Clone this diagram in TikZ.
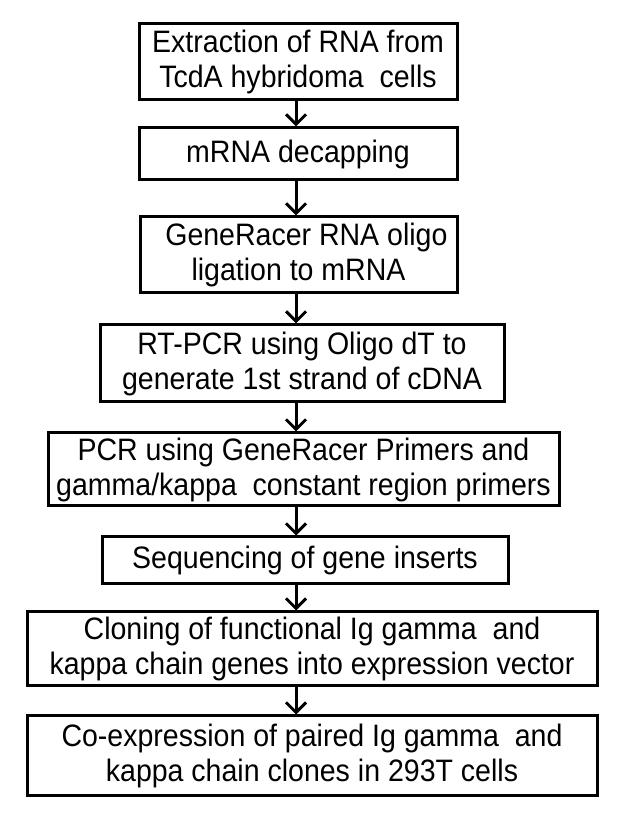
\documentclass[tikz,border=0pt]{standalone}
\usepackage{fontspec}
\setmainfont{Liberation Sans}
\newfontfamily\stepfont[FakeStretch=0.92]{Liberation Sans}
\usetikzlibrary{arrows.meta,shadows}
\begin{document}
\begin{tikzpicture}[x=1pt,y=1pt,
  stepbox/.style={draw=black, line width=3pt, fill=white, inner sep=0pt,
    align=center, font=\stepfont\fontsize{31}{35}\selectfont,
    drop shadow={shadow xshift=1.3pt, shadow yshift=-1.3pt, fill=black, opacity=1}},
  flowarrow/.style={line width=3pt, -{Straight Barb[length=10pt,width=20pt]}}]
\useasboundingbox (0,0) rectangle (625,825);
\coordinate (axis) at (296,0);
\node[stepbox, minimum width=318, minimum height=76] (b1) at (298,763) {Extraction of RNA from\\TcdA hybridoma\ \ cells};
\node[stepbox, minimum width=318, minimum height=52] (b2) at (298,671) {mRNA decapping};
\node[stepbox, minimum width=317, minimum height=76] (b3) at (298.5,570) {\ \ GeneRacer RNA oligo\\ligation to mRNA};
\node[stepbox, minimum width=404, minimum height=77] (b4) at (302,461.5) {RT-PCR using Oligo dT to\\generate 1st strand of cDNA};
\node[stepbox, minimum width=511, minimum height=73] (b5) at (303.5,355.5) {PCR using GeneRacer Primers and\\gamma/kappa\ \ constant region primers};
\node[stepbox, minimum width=406, minimum height=47] (b6) at (305,264.5) {Sequencing of gene inserts};
\node[stepbox, minimum width=570, minimum height=74] (b7) at (312,176) {Cloning of functional Ig gamma\ \ and\\kappa chain genes into expression vector};
\node[stepbox, minimum width=570, minimum height=80] (b8) at (312,69) {Co-expression of paired Ig gamma\ \ and\\kappa chain clones in 293T cells};
\foreach \a/\b in {b1/b2,b2/b3,b3/b4,b4/b5,b5/b6,b6/b7,b7/b8}
  \draw[flowarrow] (\a.south -| axis) -- (\b.north -| axis);
\end{tikzpicture}
\end{document}
